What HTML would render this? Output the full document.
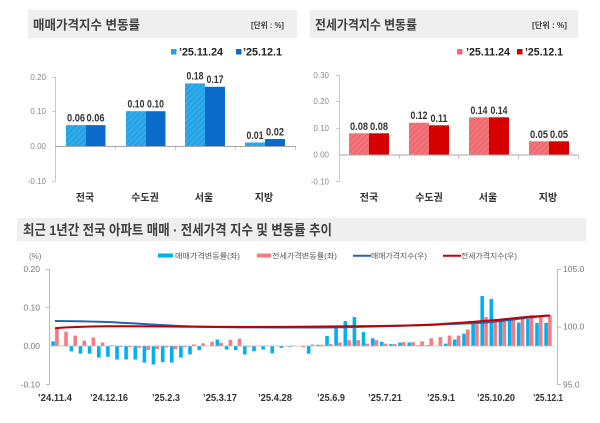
<!DOCTYPE html>
<html>
<head>
<meta charset="utf-8">
<style>
html,body{margin:0;padding:0;background:#ffffff;}
svg{display:block;}
.kr{font-family:"Liberation Sans","Noto Sans CJK KR",sans-serif;}
.num{font-family:"Liberation Sans Narrow","Liberation Sans",sans-serif;}
</style>
</head>
<body>
<svg width="600" height="423" viewBox="0 0 600 423" xmlns="http://www.w3.org/2000/svg">
<defs>
  <pattern id="hb" patternUnits="userSpaceOnUse" width="4" height="4" patternTransform="rotate(45)">
    <rect width="4" height="4" fill="#22a3e6"/>
    <rect width="1.2" height="4" fill="#3eb0ea"/>
  </pattern>
  <pattern id="hr" patternUnits="userSpaceOnUse" width="4" height="4" patternTransform="rotate(45)">
    <rect width="4" height="4" fill="#f06a6f"/>
    <rect width="1.2" height="4" fill="#f37e82"/>
  </pattern>
</defs>
<rect width="600" height="423" fill="#ffffff"/>

<!-- ===== TOP LEFT ===== -->
<rect x="28" y="10" width="269" height="28" fill="#efefef"/>
<text x="33" y="29.5" class="kr" font-size="13" font-weight="bold" fill="#404040" textLength="107" lengthAdjust="spacingAndGlyphs">매매가격지수 변동률</text>
<text x="251" y="28" class="kr" font-size="8" font-weight="bold" fill="#404040" textLength="33" lengthAdjust="spacingAndGlyphs">[단위 : %]</text>

<rect x="171" y="49" width="5.5" height="5.5" fill="#22a3e6"/>
<text x="179" y="55.5" class="num" font-size="11" font-weight="bold" fill="#222" textLength="44" lengthAdjust="spacingAndGlyphs">’25.11.24</text>
<rect x="236" y="49" width="5.5" height="5.5" fill="#0a6bcb"/>
<text x="243" y="55.5" class="num" font-size="11" font-weight="bold" fill="#222" textLength="39" lengthAdjust="spacingAndGlyphs">’25.12.1</text>

<g class="num" font-size="8" fill="#8a8a8a" text-anchor="end">
  <text x="46" y="80">0.20</text>
  <text x="46" y="114">0.10</text>
  <text x="46" y="149">0.00</text>
  <text x="46" y="184">-0.10</text>
</g>
<g stroke="#c8c8c8" stroke-width="1">
  <line x1="55.5" y1="77" x2="55.5" y2="181"/>
  <line x1="52" y1="77.5" x2="55.5" y2="77.5"/>
  <line x1="52" y1="111.5" x2="55.5" y2="111.5"/>
  <line x1="52" y1="181.5" x2="55.5" y2="181.5"/>
  <line x1="115.5" y1="146" x2="115.5" y2="150"/>
  <line x1="175.5" y1="146" x2="175.5" y2="150"/>
  <line x1="235.5" y1="146" x2="235.5" y2="150"/>
  <line x1="295.5" y1="146" x2="295.5" y2="150"/>
</g>
<rect x="66" y="125.1" width="20" height="20.9" fill="url(#hb)"/>
<rect x="86" y="125.1" width="19.5" height="20.9" fill="#0a6bcb"/>
<rect x="126" y="111.2" width="20" height="34.8" fill="url(#hb)"/>
<rect x="146" y="111.2" width="19.5" height="34.8" fill="#0a6bcb"/>
<rect x="185" y="83.4" width="20" height="62.6" fill="url(#hb)"/>
<rect x="205" y="86.8" width="20" height="59.2" fill="#0a6bcb"/>
<rect x="245" y="142.5" width="20" height="3.5" fill="url(#hb)"/>
<rect x="265" y="139" width="20" height="7" fill="#0a6bcb"/>
<line x1="55" y1="146.5" x2="296" y2="146.5" stroke="#a8a8a8" stroke-width="1"/>

<g class="num" font-size="11" font-weight="bold" fill="#333" text-anchor="middle">
  <text x="76" y="121.5" textLength="18" lengthAdjust="spacingAndGlyphs">0.06</text>
  <text x="95.5" y="121.5" textLength="18" lengthAdjust="spacingAndGlyphs">0.06</text>
  <text x="136" y="107.5" textLength="17" lengthAdjust="spacingAndGlyphs">0.10</text>
  <text x="155.5" y="107.5" textLength="17" lengthAdjust="spacingAndGlyphs">0.10</text>
  <text x="195" y="79.5" textLength="17" lengthAdjust="spacingAndGlyphs">0.18</text>
  <text x="215" y="83" textLength="17" lengthAdjust="spacingAndGlyphs">0.17</text>
  <text x="255" y="138.8" textLength="17" lengthAdjust="spacingAndGlyphs">0.01</text>
  <text x="275" y="135.3" textLength="18" lengthAdjust="spacingAndGlyphs">0.02</text>
</g>
<g class="kr" font-size="10" font-weight="bold" fill="#333" text-anchor="middle">
  <text x="85" y="201">전국</text>
  <text x="145" y="201">수도권</text>
  <text x="204" y="201">서울</text>
  <text x="264" y="201">지방</text>
</g>

<!-- ===== TOP RIGHT ===== -->
<rect x="310" y="10" width="268" height="28" fill="#efefef"/>
<text x="315" y="29.5" class="kr" font-size="13" font-weight="bold" fill="#404040" textLength="102" lengthAdjust="spacingAndGlyphs">전세가격지수 변동률</text>
<text x="532" y="28" class="kr" font-size="8" font-weight="bold" fill="#404040" textLength="35" lengthAdjust="spacingAndGlyphs">[단위 : %]</text>

<rect x="457" y="49" width="5.5" height="5.5" fill="#f06a6f"/>
<text x="466" y="55.5" class="num" font-size="11" font-weight="bold" fill="#222" textLength="44" lengthAdjust="spacingAndGlyphs">’25.11.24</text>
<rect x="517" y="49" width="5.5" height="5.5" fill="#d60000"/>
<text x="525" y="55.5" class="num" font-size="11" font-weight="bold" fill="#222" textLength="38" lengthAdjust="spacingAndGlyphs">’25.12.1</text>

<g class="num" font-size="8" fill="#8a8a8a" text-anchor="end">
  <text x="329" y="78">0.30</text>
  <text x="329" y="104">0.20</text>
  <text x="329" y="131">0.10</text>
  <text x="329" y="157.5">0.00</text>
  <text x="329" y="184.5">-0.10</text>
</g>
<g stroke="#c8c8c8" stroke-width="1">
  <line x1="339.5" y1="75" x2="339.5" y2="182"/>
  <line x1="336" y1="75.5" x2="339.5" y2="75.5"/>
  <line x1="336" y1="101.5" x2="339.5" y2="101.5"/>
  <line x1="336" y1="128.5" x2="339.5" y2="128.5"/>
  <line x1="336" y1="181.5" x2="339.5" y2="181.5"/>
  <line x1="399.5" y1="155" x2="399.5" y2="159"/>
  <line x1="458.5" y1="155" x2="458.5" y2="159"/>
  <line x1="518.5" y1="155" x2="518.5" y2="159"/>
  <line x1="578.5" y1="155" x2="578.5" y2="159"/>
</g>
<rect x="349" y="133.3" width="20" height="21.4" fill="url(#hr)"/>
<rect x="369" y="133.3" width="20" height="21.4" fill="#d60000"/>
<rect x="409" y="122.7" width="20" height="32" fill="url(#hr)"/>
<rect x="429" y="125.3" width="20" height="29.4" fill="#d60000"/>
<rect x="469" y="117.3" width="20" height="37.4" fill="url(#hr)"/>
<rect x="489" y="117.3" width="20" height="37.4" fill="#d60000"/>
<rect x="529" y="141.3" width="20" height="13.4" fill="url(#hr)"/>
<rect x="549" y="141.3" width="20" height="13.4" fill="#d60000"/>
<line x1="339" y1="155" x2="579" y2="155" stroke="#a8a8a8" stroke-width="1"/>

<g class="num" font-size="11" font-weight="bold" fill="#333" text-anchor="middle">
  <text x="359" y="129.8" textLength="18" lengthAdjust="spacingAndGlyphs">0.08</text>
  <text x="379" y="129.8" textLength="18" lengthAdjust="spacingAndGlyphs">0.08</text>
  <text x="419" y="119.2" textLength="17" lengthAdjust="spacingAndGlyphs">0.12</text>
  <text x="439" y="121.8" textLength="17" lengthAdjust="spacingAndGlyphs">0.11</text>
  <text x="479" y="113.8" textLength="17" lengthAdjust="spacingAndGlyphs">0.14</text>
  <text x="499" y="113.8" textLength="17" lengthAdjust="spacingAndGlyphs">0.14</text>
  <text x="539" y="137.8" textLength="18" lengthAdjust="spacingAndGlyphs">0.05</text>
  <text x="559" y="137.8" textLength="18" lengthAdjust="spacingAndGlyphs">0.05</text>
</g>
<g class="kr" font-size="10" font-weight="bold" fill="#333" text-anchor="middle">
  <text x="369" y="201">전국</text>
  <text x="429" y="201">수도권</text>
  <text x="488" y="201">서울</text>
  <text x="548" y="201">지방</text>
</g>

<!-- ===== BOTTOM ===== -->
<rect x="17" y="218" width="569" height="23" fill="#efefef"/>
<text x="23" y="235" class="kr" font-size="14" font-weight="bold" fill="#404040" textLength="309" lengthAdjust="spacingAndGlyphs">최근 1년간 전국 아파트 매매 · 전세가격 지수 및 변동률 추이</text>

<!-- legend -->
<rect x="158" y="253.5" width="15" height="4" fill="#00b0f0"/>
<text x="175" y="258.5" class="kr" font-size="7.5" fill="#555" textLength="65" lengthAdjust="spacingAndGlyphs">매매가격변동률(좌)</text>
<rect x="257" y="253.5" width="14" height="4" fill="#f47c80"/>
<text x="272" y="258.5" class="kr" font-size="7.5" fill="#555" textLength="65" lengthAdjust="spacingAndGlyphs">전세가격변동률(좌)</text>
<line x1="353" y1="255.7" x2="371" y2="255.7" stroke="#2a62ad" stroke-width="2"/>
<text x="371" y="258.5" class="kr" font-size="7.5" fill="#555" textLength="56" lengthAdjust="spacingAndGlyphs">매매가격지수(우)</text>
<line x1="443" y1="255.7" x2="461" y2="255.7" stroke="#c00000" stroke-width="2"/>
<text x="461" y="258.5" class="kr" font-size="7.5" fill="#555" textLength="56" lengthAdjust="spacingAndGlyphs">전세가격지수(우)</text>

<text x="29" y="259" class="num" font-size="8" fill="#777">(%)</text>
<g class="num" font-size="8.5" fill="#777" text-anchor="end">
  <text x="40" y="272">0.20</text>
  <text x="40" y="310.5">0.10</text>
  <text x="40" y="349">0.00</text>
  <text x="40" y="387.5">-0.10</text>
</g>
<g class="num" font-size="8.5" fill="#777">
  <text x="563" y="272">105.0</text>
  <text x="563" y="329.5">100.0</text>
  <text x="563" y="387.5">95.0</text>
</g>
<g stroke="#bdbdbd" stroke-width="1">
  <line x1="49.5" y1="269" x2="49.5" y2="385"/>
  <line x1="46" y1="269.5" x2="49.5" y2="269.5"/>
  <line x1="46" y1="307.5" x2="49.5" y2="307.5"/>
  <line x1="46" y1="384.5" x2="49.5" y2="384.5"/>
  <line x1="557.5" y1="269" x2="557.5" y2="385"/>
  <line x1="557.5" y1="269.5" x2="561" y2="269.5"/>
  <line x1="557.5" y1="327" x2="561" y2="327"/>
  <line x1="557.5" y1="384.5" x2="561" y2="384.5"/>
</g>

<!-- sale bars (blue) -->
<g fill="#00b0f0">
<rect x="51.3" y="341.4" width="3.6" height="4.6"/>
<rect x="60.4" y="345.5" width="3.6" height="0.5"/>
<rect x="69.6" y="346" width="3.6" height="5.4"/>
<rect x="78.7" y="346" width="3.6" height="7.7"/>
<rect x="87.8" y="346" width="3.6" height="7.7"/>
<rect x="97.0" y="346" width="3.6" height="11.6"/>
<rect x="106.1" y="346" width="3.6" height="10.8"/>
<rect x="115.2" y="346" width="3.6" height="13.5"/>
<rect x="124.3" y="346" width="3.6" height="13.5"/>
<rect x="133.5" y="346" width="3.6" height="13.5"/>
<rect x="142.6" y="346" width="3.6" height="16.6"/>
<rect x="151.7" y="346" width="3.6" height="18.5"/>
<rect x="160.9" y="346" width="3.6" height="16.2"/>
<rect x="170.0" y="346" width="3.6" height="16.6"/>
<rect x="179.1" y="346" width="3.6" height="11.6"/>
<rect x="188.2" y="346" width="3.6" height="8.5"/>
<rect x="197.4" y="346" width="3.6" height="4.2"/>
<rect x="215.6" y="339.5" width="3.6" height="6.5"/>
<rect x="224.8" y="346" width="3.6" height="3.5"/>
<rect x="233.9" y="346" width="3.6" height="4.2"/>
<rect x="243.0" y="346" width="3.6" height="8.5"/>
<rect x="252.2" y="346" width="3.6" height="5.0"/>
<rect x="261.3" y="346" width="3.6" height="3.5"/>
<rect x="270.4" y="346" width="3.6" height="7.3"/>
<rect x="279.6" y="346" width="3.6" height="1.9"/>
<rect x="288.7" y="346" width="3.6" height="0.8"/>
<rect x="306.9" y="346" width="3.6" height="7.7"/>
<rect x="316.1" y="344.8" width="3.6" height="1.2"/>
<rect x="325.2" y="336.0" width="3.6" height="10.0"/>
<rect x="334.3" y="326.7" width="3.6" height="19.3"/>
<rect x="343.5" y="321.0" width="3.6" height="25.0"/>
<rect x="352.6" y="317.1" width="3.6" height="28.9"/>
<rect x="361.7" y="332.1" width="3.6" height="13.9"/>
<rect x="370.9" y="338.3" width="3.6" height="7.7"/>
<rect x="380.0" y="341.8" width="3.6" height="4.2"/>
<rect x="389.1" y="344.1" width="3.6" height="1.9"/>
<rect x="398.2" y="342.5" width="3.6" height="3.5"/>
<rect x="407.4" y="342.5" width="3.6" height="3.5"/>
<rect x="416.5" y="345.2" width="3.6" height="0.8"/>
<rect x="425.6" y="345.2" width="3.6" height="0.8"/>
<rect x="443.9" y="343.7" width="3.6" height="2.3"/>
<rect x="453.0" y="339.5" width="3.6" height="6.5"/>
<rect x="462.2" y="333.7" width="3.6" height="12.3"/>
<rect x="471.3" y="324.1" width="3.6" height="21.9"/>
<rect x="480.4" y="296.0" width="3.6" height="50.0"/>
<rect x="489.5" y="299.0" width="3.6" height="47.0"/>
<rect x="498.7" y="320.2" width="3.6" height="25.8"/>
<rect x="507.8" y="318.7" width="3.6" height="27.3"/>
<rect x="516.9" y="322.5" width="3.6" height="23.5"/>
<rect x="526.1" y="319.0" width="3.6" height="27.0"/>
<rect x="535.2" y="322.9" width="3.6" height="23.1"/>
<rect x="544.3" y="322.9" width="3.6" height="23.1"/>
</g>

<!-- jeonse bars (pink) -->
<g fill="#f47c80">
<rect x="55.1" y="328.7" width="3.6" height="17.3"/>
<rect x="64.2" y="331.8" width="3.6" height="14.2"/>
<rect x="73.4" y="335.6" width="3.6" height="10.4"/>
<rect x="82.5" y="340.6" width="3.6" height="5.4"/>
<rect x="91.6" y="337.5" width="3.6" height="8.5"/>
<rect x="100.8" y="342.5" width="3.6" height="3.5"/>
<rect x="109.9" y="345.2" width="3.6" height="0.8"/>
<rect x="119.0" y="346" width="3.6" height="1.2"/>
<rect x="128.1" y="346" width="3.6" height="1.2"/>
<rect x="137.3" y="346" width="3.6" height="1.9"/>
<rect x="146.4" y="346" width="3.6" height="3.9"/>
<rect x="155.5" y="346" width="3.6" height="3.1"/>
<rect x="164.7" y="346" width="3.6" height="1.5"/>
<rect x="173.8" y="346" width="3.6" height="3.1"/>
<rect x="182.9" y="346" width="3.6" height="1.2"/>
<rect x="192.0" y="344.5" width="3.6" height="1.5"/>
<rect x="201.2" y="343.3" width="3.6" height="2.7"/>
<rect x="210.3" y="341.8" width="3.6" height="4.2"/>
<rect x="219.4" y="342.9" width="3.6" height="3.1"/>
<rect x="228.6" y="339.8" width="3.6" height="6.2"/>
<rect x="237.7" y="338.7" width="3.6" height="7.3"/>
<rect x="246.8" y="346" width="3.6" height="0.8"/>
<rect x="256.0" y="345.6" width="3.6" height="0.4"/>
<rect x="265.1" y="345.6" width="3.6" height="0.4"/>
<rect x="292.5" y="345.6" width="3.6" height="0.4"/>
<rect x="301.6" y="346" width="3.6" height="1.2"/>
<rect x="310.7" y="344.5" width="3.6" height="1.5"/>
<rect x="319.9" y="344.8" width="3.6" height="1.2"/>
<rect x="329.0" y="344.1" width="3.6" height="1.9"/>
<rect x="338.1" y="342.5" width="3.6" height="3.5"/>
<rect x="347.3" y="340.2" width="3.6" height="5.8"/>
<rect x="356.4" y="340.2" width="3.6" height="5.8"/>
<rect x="365.5" y="343.7" width="3.6" height="2.3"/>
<rect x="374.7" y="340.2" width="3.6" height="5.8"/>
<rect x="383.8" y="343.7" width="3.6" height="2.3"/>
<rect x="392.9" y="344.1" width="3.6" height="1.9"/>
<rect x="402.0" y="342.1" width="3.6" height="3.9"/>
<rect x="411.2" y="342.1" width="3.6" height="3.9"/>
<rect x="420.3" y="341.4" width="3.6" height="4.6"/>
<rect x="429.4" y="338.3" width="3.6" height="7.7"/>
<rect x="438.6" y="337.1" width="3.6" height="8.9"/>
<rect x="447.7" y="335.6" width="3.6" height="10.4"/>
<rect x="456.8" y="335.6" width="3.6" height="10.4"/>
<rect x="466.0" y="329.4" width="3.6" height="16.6"/>
<rect x="475.1" y="324.1" width="3.6" height="21.9"/>
<rect x="484.2" y="317.1" width="3.6" height="28.9"/>
<rect x="493.3" y="320.2" width="3.6" height="25.8"/>
<rect x="502.5" y="320.2" width="3.6" height="25.8"/>
<rect x="511.6" y="319.0" width="3.6" height="27.0"/>
<rect x="520.7" y="316.7" width="3.6" height="29.3"/>
<rect x="529.9" y="315.2" width="3.6" height="30.8"/>
<rect x="539.0" y="315.2" width="3.6" height="30.8"/>
<rect x="548.1" y="315.2" width="3.6" height="30.8"/>
</g>

<line x1="49" y1="346" x2="554" y2="346" stroke="#bdbdbd" stroke-width="0.8"/>

<!-- index lines -->
<path d="M55,321 C70,321 90,321.5 107,322 C125,322.7 150,324.5 180,326 C200,327 230,327.3 260,327.4 C290,327.6 320,327.6 345,327.2 C370,326.8 400,326 430,325 C455,324 472,323.3 487,322.5 C500,321.5 510,319.8 520,318.6 C532,317.2 542,316 550,315.5" fill="none" stroke="#2a62ad" stroke-width="2"/>
<path d="M55,328.3 C65,327.4 85,326.6 107,326.3 C130,326.1 160,326.3 200,326.8 C230,327 270,327 300,326.8 C330,326.6 360,326.3 380,326 C400,325.7 415,325.3 430,324.6 C450,323.6 470,322 487,320.8 C500,319.7 510,318.6 520,317.6 C532,316.6 542,315.8 550,315.5" fill="none" stroke="#c00000" stroke-width="2"/>

<!-- date labels -->
<g class="num" font-size="10" font-weight="bold" fill="#333" text-anchor="middle">
  <text x="55" y="401" textLength="34" lengthAdjust="spacingAndGlyphs">’24.11.4</text>
  <text x="109" y="401" textLength="38" lengthAdjust="spacingAndGlyphs">’24.12.16</text>
  <text x="166" y="401" textLength="28" lengthAdjust="spacingAndGlyphs">’25.2.3</text>
  <text x="220" y="401" textLength="34" lengthAdjust="spacingAndGlyphs">’25.3.17</text>
  <text x="275" y="401" textLength="34" lengthAdjust="spacingAndGlyphs">’25.4.28</text>
  <text x="331" y="401" textLength="28" lengthAdjust="spacingAndGlyphs">’25.6.9</text>
  <text x="385" y="401" textLength="34" lengthAdjust="spacingAndGlyphs">’25.7.21</text>
  <text x="441" y="401" textLength="28" lengthAdjust="spacingAndGlyphs">’25.9.1</text>
  <text x="496" y="401" textLength="38" lengthAdjust="spacingAndGlyphs">’25.10.20</text>
  <text x="548" y="401" textLength="30" lengthAdjust="spacingAndGlyphs">’25.12.1</text>
</g>
</svg>
</body>
</html>
